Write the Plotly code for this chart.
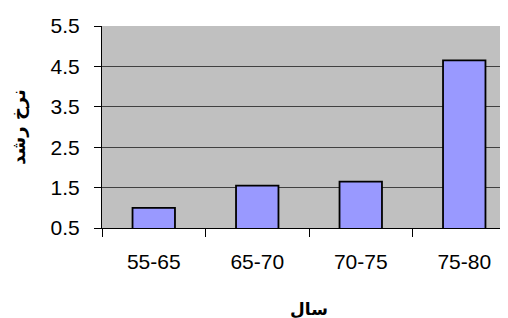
import plotly.graph_objects as go

categories = ["55-65", "65-70", "70-75", "75-80"]
values = [1.0, 1.55, 1.65, 4.65]
y_ticks = [0.5, 1.5, 2.5, 3.5, 4.5, 5.5]
y_tick_labels = ["0.5", "1.5", "2.5", "3.5", "4.5", "5.5"]
x_title = "سال"
y_title = "نرخ رشد"

fig = go.Figure(
    go.Bar(
        x=categories,
        y=values,
        width=0.41,
        marker=dict(color="#9999FF", line=dict(color="black", width=1.8)),
    )
)

# page body has an 8px margin, so the figure is offset by (8, 8)
fig.update_layout(
    width=508,
    height=318,
    margin=dict(l=94, r=0, t=18, b=98),
    plot_bgcolor="#C0C0C0",
    paper_bgcolor="white",
    showlegend=False,
    font=dict(family="Liberation Sans, Arial", size=21, color="black"),
)

fig.update_xaxes(
    type="category",
    range=[-0.5, 3.5],
    tickson="boundaries",
    ticks="outside",
    ticklen=8,
    tickcolor="black",
    tickwidth=1,
    showline=True,
    linecolor="black",
    linewidth=1,
    showgrid=False,
    ticklabelstandoff=15,
    automargin=False,
    title=dict(text=x_title, font=dict(family="DejaVu Sans, Noto Sans", size=17, weight="bold"), standoff=30),
)

fig.update_yaxes(
    range=[0.5, 5.5],
    tickvals=y_ticks,
    ticktext=y_tick_labels,
    ticks="outside",
    ticklen=7,
    tickcolor="black",
    tickwidth=1,
    showline=True,
    linecolor="black",
    linewidth=1,
    showgrid=True,
    gridcolor="#404040",
    gridwidth=1,
    zeroline=False,
    ticklabelstandoff=10,
    automargin=False,
    title=dict(text=y_title, font=dict(family="DejaVu Sans, Noto Sans", size=18, weight="bold"), standoff=22),
)

fig.write_html("out.html")
